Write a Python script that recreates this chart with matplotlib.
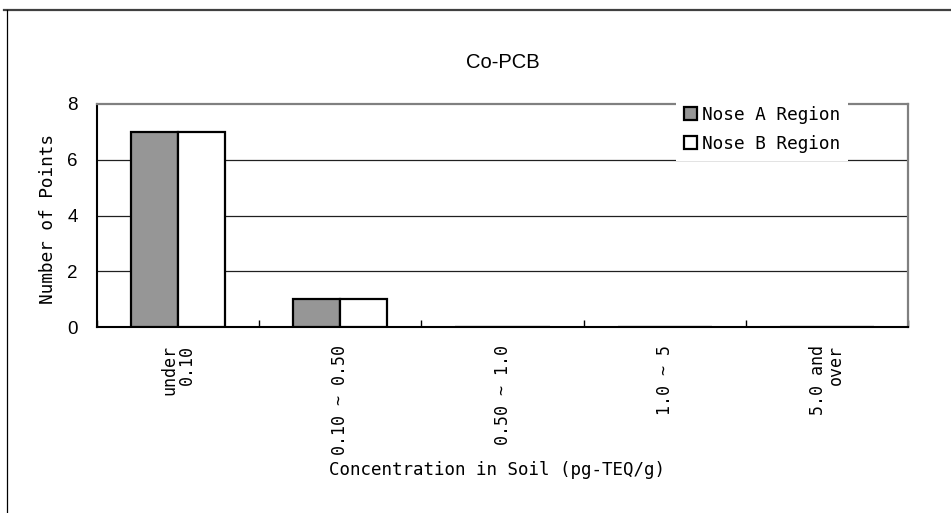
import matplotlib
matplotlib.use("Agg")
import matplotlib.pyplot as plt
from matplotlib.patches import Patch
from matplotlib.lines import Line2D
import numpy as np

# Data
categories = ["under\n0.10", "0.10 ~ 0.50", "0.50 ~ 1.0", "1.0 ~ 5", "5.0 and\nover"]
region_a = [7, 1, 0, 0, 0]
region_b = [7, 1, 0, 0, 0]
series_names = ["Nose A Region", "Nose B Region"]
y_ticks = [0, 2, 4, 6, 8]

MONO = ["DejaVu Sans Mono", "Noto Sans CJK JP"]
SANS = ["Liberation Sans", "DejaVu Sans"]

W, H = 951, 513
fig = plt.figure(figsize=(W / 100, H / 100), dpi=100)
fig.patch.set_facecolor("white")

left, right, top, bottom = 97, 908, 104, 327
ax = fig.add_axes([left / W, 1 - bottom / H, (right - left) / W, (bottom - top) / H])

x = np.arange(len(categories))
bw = 0.29
ax.bar(x - bw / 2, region_a, width=bw, color="#969696", edgecolor="black", linewidth=1.6, zorder=3)
ax.bar(x + bw / 2, region_b, width=bw, color="white", edgecolor="black", linewidth=1.6, zorder=3)

ax.set_xlim(-0.5, len(categories) - 0.5)
ax.set_ylim(0, 8)
ax.set_yticks(y_ticks)
ax.set_yticklabels([str(v) for v in y_ticks], family=SANS, fontsize=13.5)
ax.tick_params(axis="y", length=0, pad=14)

# Horizontal gridlines
for v in y_ticks[1:-1]:
    ax.axhline(v, color="#202020", linewidth=0.9, zorder=1)

# Category labels, rotated
ax.set_xticks(x)
ax.set_xticklabels(categories, rotation=90, va="top", ha="center",
                   multialignment="right", family=MONO, fontsize=12,
                   linespacing=0.95)
ax.tick_params(axis="x", which="major", length=0, pad=13)
ax.set_xticks(np.arange(-0.5, len(categories), 1.0), minor=True)
ax.tick_params(axis="x", which="minor", direction="in", length=5, width=1, color="black")

for s in ["left", "bottom"]:
    ax.spines[s].set_color("black")
    ax.spines[s].set_linewidth(1.5)
for s in ["top", "right"]:
    ax.spines[s].set_color("#808080")
    ax.spines[s].set_linewidth(1.6)

# Legend
handles = [Patch(facecolor="#969696", edgecolor="black", linewidth=1.6),
           Patch(facecolor="white", edgecolor="black", linewidth=1.6)]
leg = ax.legend(handles, series_names, loc="upper left",
                bbox_to_anchor=(676 / W, 1 - 98 / H), bbox_transform=fig.transFigure,
                prop={"family": MONO, "size": 12.8}, frameon=True, fancybox=False,
                borderpad=0.45, borderaxespad=0, handlelength=0.72, handleheight=0.72,
                handletextpad=0.3, labelspacing=0.62)
leg.get_frame().set_facecolor("white")
leg.get_frame().set_edgecolor("none")
leg.get_frame().set_alpha(1)
leg.set_zorder(5)

# Titles
fig.text(503 / W, 1 - 62 / H, "Co-PCB", family=SANS, fontsize=14.5, ha="center", va="center")
fig.text(48 / W, 1 - 219 / H, "Number of Points", family=MONO, fontsize=12.8,
         rotation=90, ha="center", va="center")
fig.text(497 / W, 1 - 470 / H, "Concentration in Soil (pg-TEQ/g)", family=MONO,
         fontsize=12.6, ha="center", va="center")

# Outer frame edges
fig.add_artist(Line2D([4 / W, 1], [1 - 10 / H, 1 - 10 / H], transform=fig.transFigure,
                      color="#404040", linewidth=1.6))
fig.add_artist(Line2D([7 / W, 7 / W], [0, 1 - 10 / H], transform=fig.transFigure,
                      color="black", linewidth=0.9))

fig.savefig("out.png", dpi=100, facecolor="white")
